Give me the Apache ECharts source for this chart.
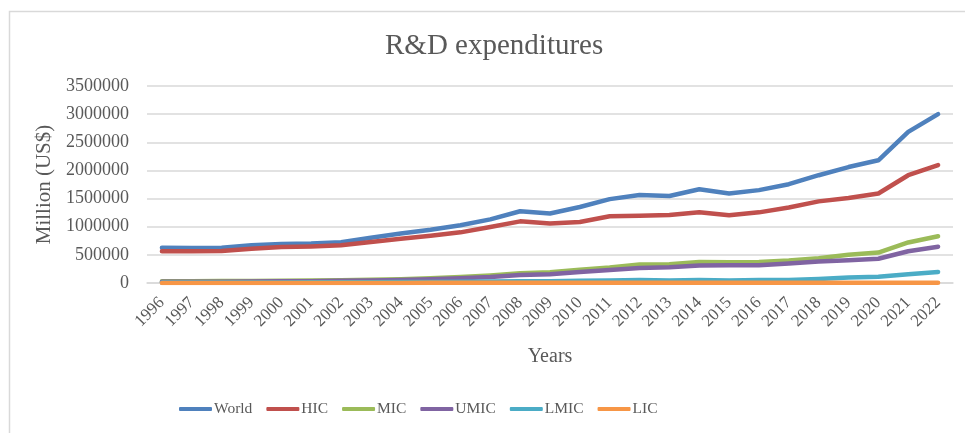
<!DOCTYPE html>
<html>
<head>
<meta charset="utf-8">
<script src="https://cdn.jsdelivr.net/npm/echarts@6/dist/echarts.min.js"></script>
<style>html,body{margin:0;padding:0;background:#fff;}#c{width:965px;height:433px;}</style>
</head>
<body>
<div id="c"></div>
<script>
const years = ['1996','1997','1998','1999','2000','2001','2002','2003','2004','2005','2006','2007','2008','2009','2010','2011','2012','2013','2014','2015','2016','2017','2018','2019','2020','2021','2022'];
const world = [625000, 622000, 628000, 670000, 695000, 700000, 725000, 805000, 880000, 945000, 1025000, 1130000, 1275000, 1235000, 1350000, 1490000, 1565000, 1545000, 1665000, 1590000, 1650000, 1755000, 1915000, 2060000, 2180000, 2685000, 3000000];
const hic = [565000, 565000, 568000, 610000, 640000, 650000, 670000, 730000, 785000, 840000, 900000, 995000, 1095000, 1055000, 1085000, 1185000, 1195000, 1210000, 1255000, 1205000, 1255000, 1340000, 1450000, 1510000, 1590000, 1915000, 2095000];
const mic = [30000, 32000, 34000, 37000, 40000, 44000, 50000, 58000, 68000, 85000, 105000, 135000, 175000, 190000, 235000, 275000, 330000, 335000, 375000, 370000, 372000, 400000, 440000, 500000, 540000, 720000, 830000];
const umic = [20000, 22000, 24000, 27000, 30000, 33000, 38000, 45000, 55000, 68000, 85000, 105000, 140000, 155000, 195000, 230000, 265000, 280000, 310000, 315000, 315000, 345000, 380000, 405000, 430000, 565000, 645000];
const lmic = [8000, 9000, 10000, 10000, 11000, 12000, 13000, 14000, 16000, 18000, 21000, 25000, 32000, 33000, 38000, 45000, 55000, 45000, 55000, 45000, 52000, 55000, 72000, 98000, 110000, 155000, 195000];
const lic = [2000, 2000, 2000, 2000, 2000, 2000, 2000, 2000, 2000, 2500, 2500, 2500, 3000, 3000, 3000, 3000, 3000, 3000, 3500, 3500, 3500, 3500, 4000, 4000, 4000, 4500, 5000];

const names = ['World','HIC','MIC','UMIC','LMIC','LIC'];
const colors = ['#4f81bd','#c0504d','#9bbb59','#8064a2','#4bacc6','#f79646'];
const datasets = [world, hic, mic, umic, lmic, lic];

const font = "'Liberation Serif', 'Times New Roman', serif";
const chart = echarts.init(document.getElementById('c'), null, {renderer: 'canvas'});
chart.setOption({
  animation: false,
  color: colors,
  graphic: [{
    type: 'rect', silent: true,
    shape: {x: 9.5, y: 11.5, width: 1000, height: 600},
    style: {fill: 'none', stroke: '#d9d9d9', lineWidth: 1.5}
  }],
  title: {
    text: 'R&D expenditures', left: 380, top: 27,
    textStyle: {fontFamily: font, fontSize: 29, fontWeight: 'normal', color: '#595959'}
  },
  legend: {
    bottom: 11, left: 174,
    itemWidth: 33, itemHeight: 4, itemGap: 14,
    icon: 'roundRect',
    textStyle: {fontFamily: font, fontSize: 15.5, color: '#595959', padding: [0,0,0,-3]},
    data: names
  },
  grid: {left: 147, right: 12, top: 86, bottom: 150, containLabel: false},
  xAxis: {
    type: 'category', data: years, boundaryGap: true,
    name: 'Years', nameLocation: 'middle', nameGap: 64,
    nameTextStyle: {fontFamily: font, fontSize: 20, color: '#595959'},
    axisLine: {show: true, lineStyle: {color: '#d9d9d9', width: 1.5}},
    axisTick: {show: false},
    axisLabel: {rotate: 45, interval: 0, margin: 17, fontFamily: font, fontSize: 17, color: '#595959'}
  },
  yAxis: {
    type: 'value', min: 0, max: 3500000, interval: 500000,
    name: 'Million (US$)', nameLocation: 'middle', nameGap: 84,
    nameTextStyle: {fontFamily: font, fontSize: 21, color: '#595959'},
    axisLine: {show: false}, axisTick: {show: false},
    axisLabel: {margin: 18, fontFamily: font, fontSize: 18, color: '#595959', formatter: v => String(v)},
    splitLine: {lineStyle: {color: '#d9d9d9', width: 1.5}}
  },
  series: names.map((n, i) => ({
    name: n, type: 'line', data: datasets[i],
    showSymbol: false, symbol: 'none',
    lineStyle: {width: 4.5, color: colors[i], cap: 'round', join: 'round'},
    itemStyle: {color: colors[i]}
  }))
});
</script>
</body>
</html>
